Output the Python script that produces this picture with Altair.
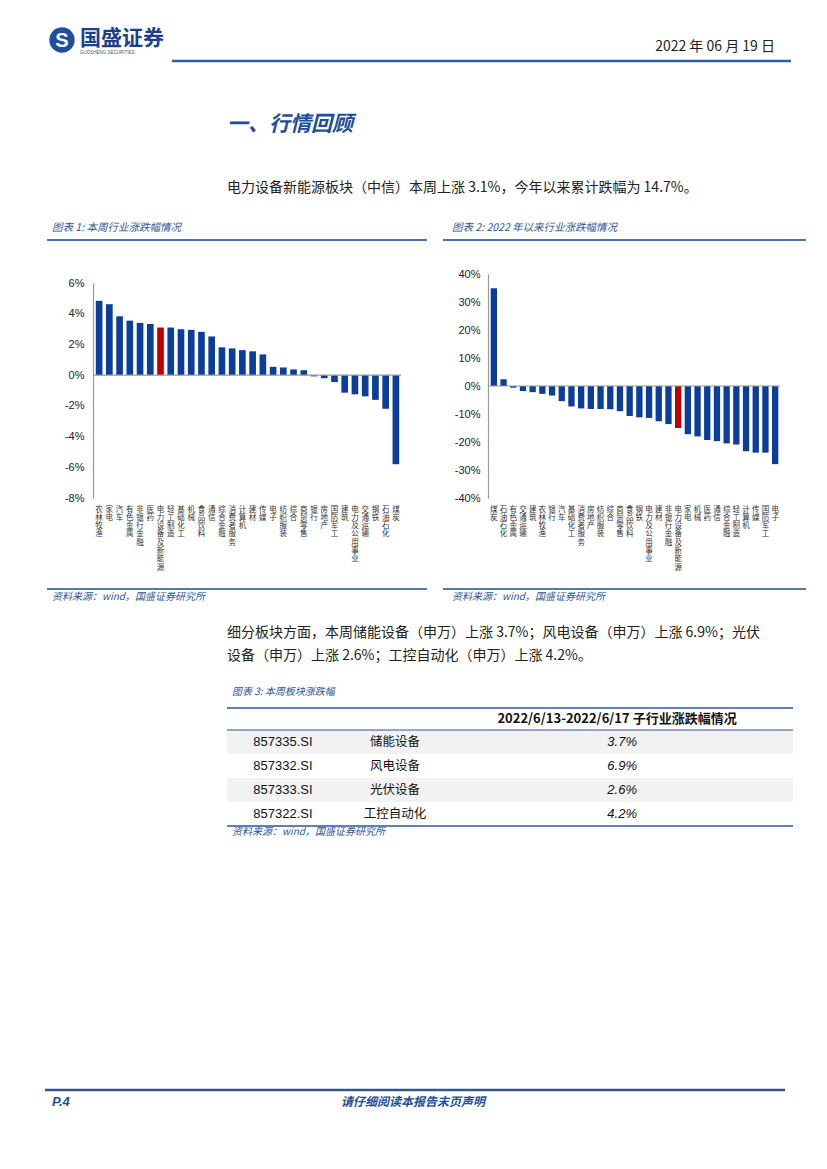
import altair as alt
import pandas as pd

# ---------------- data ----------------
cats1 = ["农林牧渔", "家电", "汽车", "有色金属", "非银行金融", "医药", "电力设备及新能源",
         "轻工制造", "基础化工", "机械", "食品饮料", "通信", "综合金融", "消费者服务",
         "计算机", "建材", "传媒", "电子", "纺织服装", "综合", "商贸零售", "银行",
         "房地产", "国防军工", "建筑", "电力及公用事业", "交通运输", "钢铁", "石油石化", "煤炭"]
vals1 = [4.84, 4.62, 3.83, 3.55, 3.4, 3.33, 3.1, 3.1, 2.99, 2.95, 2.82, 2.52, 1.81, 1.74,
         1.63, 1.55, 1.35, 0.54, 0.5, 0.37, 0.32, -0.08, -0.2, -0.45, -1.14, -1.25, -1.38,
         -1.61, -2.19, -5.8]

cats2 = ["煤炭", "石油石化", "有色金属", "交通运输", "建筑", "农林牧渔", "银行", "汽车",
         "基础化工", "消费者服务", "房地产", "纺织服装", "综合", "商贸零售", "食品饮料",
         "钢铁", "电力及公用事业", "建材", "非银行金融", "电力设备及新能源", "家电", "机械",
         "医药", "通信", "综合金融", "轻工制造", "计算机", "传媒", "国防军工", "电子"]
vals2 = [34.9, 2.4, -0.6, -1.8, -2.2, -2.8, -3.4, -5.4, -7.3, -8.0, -8.2, -8.2, -8.3, -9.0,
         -10.7, -11.2, -11.4, -12.6, -13.6, -15.0, -17.2, -18.0, -19.3, -19.7, -20.5, -20.9,
         -23.3, -23.8, -23.8, -27.9]

highlight = "电力设备及新能源"
yticks1 = [-8, -6, -4, -2, 0, 2, 4, 6]
yticks2 = [-40, -30, -20, -10, 0, 10, 20, 30, 40]

codes = ["857335.SI", "857332.SI", "857333.SI", "857322.SI"]
names = ["储能设备", "风电设备", "光伏设备", "工控自动化"]
changes = ["3.7%", "6.9%", "2.6%", "4.2%"]

# ---------------- styles ----------------
CJK = "Noto Sans CJK SC"
LAT = "Liberation Sans"
BLUE_BAR = "#0B3D9A"
RED_BAR = "#C00000"
NAVY = "#1F4E9A"
LINE_BLUE = "#4A74A8"
DARK_LINE = "#1F4E8C"

W, H = 811, 1153
base = pd.DataFrame({"k": [0]})


def txt(s, x, y, size, color="#222222", align="left", weight="normal", style="normal",
        font=CJK, baseline="middle"):
    return alt.Chart(base).mark_text(
        text=s, align=align, baseline=baseline, fontSize=size, color=color,
        fontWeight=weight, fontStyle=style, font=font
    ).encode(x=alt.value(x), y=alt.value(y))


def hline(x1, x2, y, color, width):
    return alt.Chart(base).mark_rule(color=color, strokeWidth=width).encode(
        x=alt.value(x1), x2=alt.value(x2), y=alt.value(y))


# ---------------- page decorations ----------------
deco = [
    # logo
    alt.Chart(base).mark_point(shape="circle", filled=True, size=640, color="#1E4E9E", opacity=1)
    .encode(x=alt.value(54), y=alt.value(32)),
    txt("S", 54, 33, 20, color="white", align="center", weight="bold", font=LAT),
    txt("国盛证券", 72, 31, 21, color="#1B3F8B", weight="bold"),
    txt("GUOSHENG SECURITIES", 72, 45, 4.5, color="#555555", font=LAT),
    txt("2022 年 06 月 19 日", 767, 39, 14, color="#222222", align="right"),
    hline(164, 783, 53, "#2F5EA8", 2.5),
    # heading + paragraph
    txt("一、行情回顾", 219, 117, 21, color=NAVY, weight="bold", style="italic"),
    txt("电力设备新能源板块（中信）本周上涨 3.1%，今年以来累计跌幅为 14.7%。", 219, 180, 14),
    # chart titles
    txt("图表 1:  本周行业涨跌幅情况", 44, 220, 10.5, color="#2F5597", style="italic"),
    txt("图表 2:  2022 年以来行业涨跌幅情况", 444, 220, 10.5, color="#2F5597", style="italic"),
    hline(39, 419, 232, LINE_BLUE, 2),
    hline(435, 798, 232, LINE_BLUE, 2),
    hline(39, 419, 581, DARK_LINE, 1.5),
    hline(435, 798, 581, DARK_LINE, 1.5),
    txt("资料来源：wind，国盛证券研究所", 44, 589, 10, color="#2F5597", style="italic"),
    txt("资料来源：wind，国盛证券研究所", 444, 589, 10, color="#2F5597", style="italic"),
    # paragraph 2
    txt("细分板块方面，本周储能设备（申万）上涨 3.7%；风电设备（申万）上涨 6.9%；光伏", 219, 625, 14),
    txt("设备（申万）上涨 2.6%；工控自动化（申万）上涨 4.2%。", 219, 648, 14),
    # table decorations
    txt("图表 3:  本周板块涨跌幅", 224, 684, 10, color="#2F5597", style="italic"),
    txt("2022/6/13-2022/6/17 子行业涨跌幅情况", 609, 711, 13, color="#111111", weight="bold",
        align="center"),
    txt("资料来源：wind，国盛证券研究所", 224, 824, 10, color="#2F5597", style="italic"),
    # footer
    hline(37, 777, 1082, "#2F5597", 2.5),
    txt("P.4", 44, 1094, 13, color=NAVY, weight="bold", style="italic", font=LAT),
    txt("请仔细阅读本报告末页声明", 405, 1094, 12, color=NAVY, weight="bold", style="italic",
        align="center"),
]


# ---------------- bar charts ----------------
def bar_chart(cats, vals, ticks, xrange, yrange, ydom, yaxis_x, label_pad):
    df = pd.DataFrame({"行业": cats, "涨跌幅": vals})
    df["hl"] = df["行业"] == highlight
    x = alt.X("行业:N", sort=None, title=None,
              scale=alt.Scale(range=xrange, paddingInner=0.35, paddingOuter=0.175),
              axis=alt.Axis(orient="bottom", offset=-(H - yrange[0]), domain=False,
                            ticks=False, labelAngle=0, labelBaseline="top", labelPadding=7,
                            labelFont=CJK, labelFontSize=7.5, labelLineHeight=8.3,
                            labelColor="#333333", labelOverlap=False, labelBound=False,
                            labelLimit=0, labelExpr="split(datum.label, '')"))
    y = alt.Y("涨跌幅:Q", title=None,
              scale=alt.Scale(domain=ydom, range=yrange, nice=False, zero=False),
              axis=alt.Axis(orient="left", offset=-yaxis_x, values=ticks, grid=False,
                            ticks=False, domainColor="#9A9A9A", domainWidth=1.2,
                            labelPadding=label_pad, labelFont=LAT, labelFontSize=11,
                            labelColor="#222222", labelExpr="datum.value + '%'"))
    bars = alt.Chart(df).mark_bar().encode(
        x=x, y=y,
        color=alt.condition("datum.hl", alt.value(RED_BAR), alt.value(BLUE_BAR)),
    )
    zero = alt.Chart(base).mark_rule(color="#9A9A9A", strokeWidth=1.2).encode(
        y=alt.datum(0), x=alt.value(yaxis_x), x2=alt.value(xrange[1]))
    return alt.layer(bars, zero)


chart1 = bar_chart(cats1, vals1, yticks1, [86, 393], [490, 275], [-8, 6], 85, 9)
chart2 = bar_chart(cats2, vals2, yticks2, [481, 772], [490, 266], [-40, 40], 480, 8)

# ---------------- table ----------------
tdf = pd.DataFrame({"row": list(range(len(codes))), "code": codes, "name": names, "chg": changes})
ty = alt.Y("row:O", title=None, axis=None,
           scale=alt.Scale(type="band", range=[722, 818], paddingInner=0, paddingOuter=0))
shade = alt.Chart(tdf).transform_filter("datum.row % 2 == 0").mark_rect(color="#F2F2F2").encode(
    y=ty, x=alt.value(219), x2=alt.value(785))
tcode = alt.Chart(tdf).mark_text(font=LAT, fontSize=13, color="#111111", align="center").encode(
    y=ty, x=alt.value(275), text="code:N")
tname = alt.Chart(tdf).mark_text(font=CJK, fontSize=12.5, color="#111111", align="center").encode(
    y=ty, x=alt.value(387), text="name:N")
tchg = alt.Chart(tdf).mark_text(font=LAT, fontSize=13, color="#111111", align="right",
                                fontStyle="italic").encode(
    y=ty, x=alt.value(629), text="chg:N")
table = alt.layer(shade, tcode, tname, tchg)

tlines = [
    hline(219, 785, 700, "#2F5597", 1.5),
    hline(219, 785, 722, "#2F5597", 1),
    hline(219, 785, 818, "#2F5597", 1.5),
]

chart = alt.layer(*deco, chart1, chart2, table, *tlines).resolve_scale(
    x="independent", y="independent"
).properties(
    width=W, height=H, autosize=alt.AutoSizeParams(type="none"), padding=0
).configure_view(stroke=None)

chart.save("out.html", embed_options={"renderer": "svg", "actions": False})
